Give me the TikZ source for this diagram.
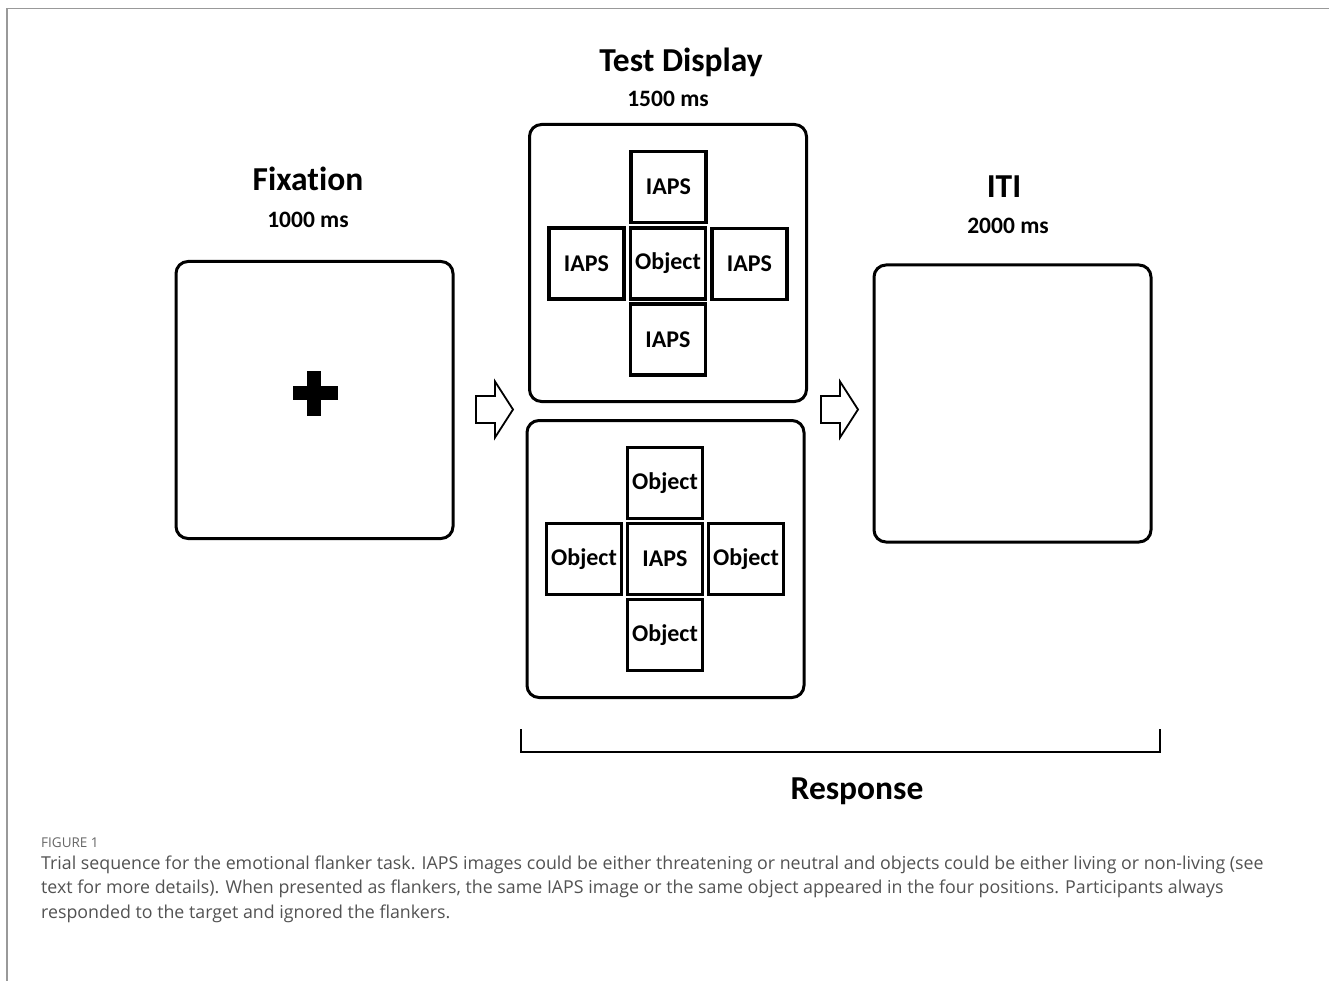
\documentclass[tikz,border=0pt]{standalone}
\usepackage{fontspec}
\setmainfont{Carlito}[Ligatures=NoCommon]
\newfontfamily\capfont{Open Sans}
\begin{document}
\begin{tikzpicture}[x=1pt,y=-1pt,
  screen/.style={draw, line width=3, rounded corners=12, minimum width=277, minimum height=277, inner sep=0},
  cell/.style={draw, line width=3.2, minimum width=75, minimum height=71, inner sep=0, font=\fontsize{24}{28}\selectfont\bfseries},
  title/.style={font=\fontsize{33.5}{38}\selectfont\bfseries},
  dur/.style={font=\fontsize{23.5}{28}\selectfont\bfseries},
  blockarrow/.pic={\draw[line width=1.8, line join=miter]
     (0,-13.5) -- (19,-13.5) -- (19,-28) -- (37,0) -- (19,28) -- (19,13.5) -- (0,13.5) -- cycle;}
]
\useasboundingbox (0,0) rectangle (1329,981);
% page frame
\draw[line width=1.6, color=black!40] (7,981) -- (7,8.5) -- (1329,8.5);

% fixation screen
\node[screen] (fix) at (314.5,400) {};
\node[title] (fixT) at (308,179) {Fixation};
\node[dur] (fixD) at (308,220) {1000 ms};
\fill (307,371) rectangle (321,416);
\fill (293,386) rectangle (338,400);

% test display screens
\node[title] (testT) at (681,62) {Test Display};
\node[dur] (testD) at (668,99) {1500 ms};
\node[screen] (testA) at (668,263) {};
\node[screen] (testB) at (665.5,559) {};

% upper display: object target with IAPS flankers
\node[cell] (aC) at (668,263.5) {Object};
\node[cell] (aN) at (668.5,187) {IAPS};
\node[cell] (aS) at (668,339.5) {IAPS};
\node[cell] (aW) at (586.5,263.5) {IAPS};
\node[cell] (aE) at (749.5,264) {IAPS};

% lower display: IAPS target with object flankers
\node[cell] (bC) at (665,559) {IAPS};
\node[cell] (bN) at (665,483) {Object};
\node[cell] (bS) at (665,635) {Object};
\node[cell] (bW) at (584,559) {Object};
\node[cell] (bE) at (746,559) {Object};

% inter-trial interval screen
\node[screen] (iti) at (1012.5,403.5) {};
\node[title] (itiT) at (1004,187) {ITI};
\node[dur] (itiD) at (1008,226) {2000 ms};

% block arrows between screens
\coordinate (arrA) at (476,409.5);
\coordinate (arrB) at (821,409.5);
\pic at (arrA) {blockarrow};
\pic at (arrB) {blockarrow};

% response bracket
\coordinate (brL) at (521,729);
\coordinate (brR) at (1160,729);
\draw[line width=2.2] (brL) -- ++(0,23) -| (brR);
\node[title] (resp) at (857,791) {Response};

% caption
\node[anchor=base west, inner sep=0, text=black!60, font=\capfont\fontsize{13.5}{16}\selectfont] (figno) at (41,847) {FIGURE 1};
\node[anchor=base west, inner sep=0, align=left, text=black!68,
      font=\capfont\fontsize{17.8}{24.5}\selectfont] (cap) at (41,918)
 {Trial sequence for the emotional flanker task. IAPS images could be either threatening or neutral and objects could be either living or non-living (see\\
  text for more details). When presented as flankers, the same IAPS image or the same object appeared in the four positions. Participants always\\
  responded to the target and ignored the flankers.};
\end{tikzpicture}
\end{document}
